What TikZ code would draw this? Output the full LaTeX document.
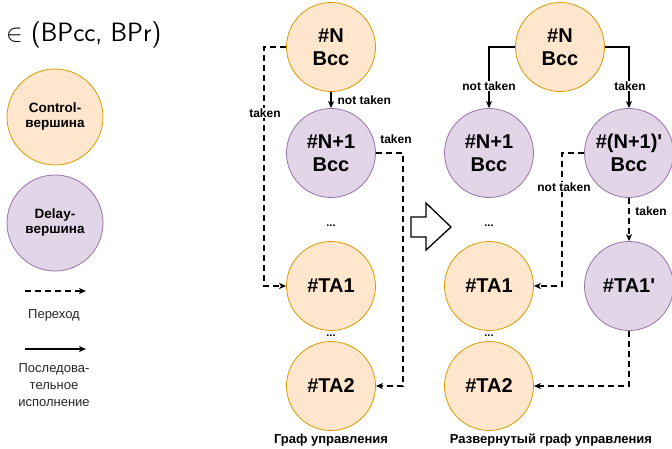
\documentclass[tikz,border=0pt]{standalone}
\usepackage{fontspec}
\setmainfont{Liberation Sans}
\usetikzlibrary{arrows.meta}

\definecolor{ctrlfill}{HTML}{FFE6CC}
\definecolor{ctrlline}{HTML}{D79B00}
\definecolor{delayfill}{HTML}{E1D5E7}
\definecolor{delayline}{HTML}{9673A6}

\tikzset{
  ctrl/.style={circle, draw=ctrlline, fill=ctrlfill, line width=0.8pt, minimum size=89pt, inner sep=0pt, align=center, font=\bfseries\fontsize{20}{23}\selectfont},
  delay/.style={ctrl, draw=delayline, fill=delayfill},
  legnode/.style={minimum size=96pt, font=\bfseries\fontsize{13.5}{15}\selectfont},
  exec/.style={line width=1.3pt, -{Stealth[length=7pt, width=6pt, inset=2pt]}},
  jump/.style={exec, dash pattern=on 6pt off 4pt},
  lbl/.style={fill=white, inner sep=1pt, font=\bfseries\fontsize{12}{14}\selectfont},
  dots/.style={inner sep=0pt, font=\bfseries\fontsize{11}{12}\selectfont},
  caption/.style={font=\bfseries\fontsize{13}{15}\selectfont}
}

\begin{document}
\begin{tikzpicture}[x=1pt, y=-1pt, line cap=butt, line join=miter]
  \useasboundingbox (0, 0) rectangle (672, 448);
  % Legend
  \node [anchor=west, inner sep=0pt, font=\sffamily\fontsize{26.5}{28}\selectfont] (title) at (6, 35) {$\in$ (BPcc, BPr)};
  \node [ctrl, legnode] (leg-ctrl) at (55, 117) {Control-\\вершина};
  \node [delay, legnode] (leg-delay) at (55, 223) {Delay-\\вершина};
  \coordinate (leg-j1) at (25, 291);
  \coordinate (leg-j2) at (86, 291);
  \draw [jump] (leg-j1) -- (leg-j2);
  \node [font=\fontsize{13}{15}\selectfont, text=black!85] (leg-jtext) at (54, 315) {Переход};
  \coordinate (leg-e1) at (25, 349);
  \coordinate (leg-e2) at (86, 349);
  \draw [exec] (leg-e1) -- (leg-e2);
  \node [align=center, font=\fontsize{13}{17}\selectfont, text=black!85] (leg-etext) at (54, 385) {Последова-\\тельное\\исполнение};

  % Control graph
  \node [ctrl] (g1-n) at (331, 47) {\#N\\Bcc};
  \node [delay] (g1-n1) at (331, 153) {\#N+1\\Bcc};
  \node [dots] (g1-d1) at (331, 226) {...};
  \node [ctrl] (g1-ta1) at (331, 286) {\#TA1};
  \node [dots] (g1-d2) at (331, 336) {...};
  \node [ctrl] (g1-ta2) at (331, 386) {\#TA2};
  \node [caption] (g1-cap) at (331, 440) {Граф управления};
  % Control graph arrows
  \draw [exec] (g1-n) -- (g1-n1) node [midway, right, lbl, xshift=5pt] {not taken};
  \draw [jump] (g1-n.west) -- ++(-22, 0) |- (g1-ta1.west);
  \node [lbl] (g1-l1) at (265, 113) {taken};
  \draw [jump] (g1-n1.east) -- ++(27, 0) |- (g1-ta2.east);
  \node [lbl, fill=none] (g1-l2) at (396, 139) {taken};

  % Transition arrow
  \draw [line width=1.3pt] (411, 217) -- (426, 217) -- (426, 203) -- (451, 227) -- (426, 250) -- (426, 237) -- (411, 237) -- cycle;

  % Unrolled graph
  \node [ctrl] (g2-n) at (560, 47) {\#N\\Bcc};
  \node [delay] (g2-n1) at (489, 153) {\#N+1\\Bcc};
  \node [delay] (g2-n1p) at (629, 153) {\#(N+1)\textquotesingle\\Bcc};
  \node [dots] (g2-d1) at (489, 226) {...};
  \node [ctrl] (g2-ta1) at (489, 286) {\#TA1};
  \node [delay] (g2-ta1p) at (629, 286) {\#TA1\textquotesingle};
  \node [dots] (g2-d2) at (489, 336) {...};
  \node [ctrl] (g2-ta2) at (489, 386) {\#TA2};
  \node [caption] (g2-cap) at (551, 440) {Развернутый граф управления};
  % Unrolled graph arrows
  \draw [exec] (g2-n.west) -| (g2-n1.north);
  \node [lbl] (g2-l1) at (489, 86) {not taken};
  \draw [exec] (g2-n.east) -| (g2-n1p.north);
  \node [lbl] (g2-l2) at (630, 86) {taken};
  \draw [jump] (g2-n1p.west) -- ++(-22, 0) |- (g2-ta1.east);
  \node [lbl] (g2-l3) at (564, 187) {not taken};
  \draw [jump] (g2-n1p) -- (g2-ta1p);
  \node [lbl, fill=none] (g2-l4) at (651, 211) {taken};
  \draw [jump] (g2-ta1p.south) |- (g2-ta2.east);
\end{tikzpicture}
\end{document}
